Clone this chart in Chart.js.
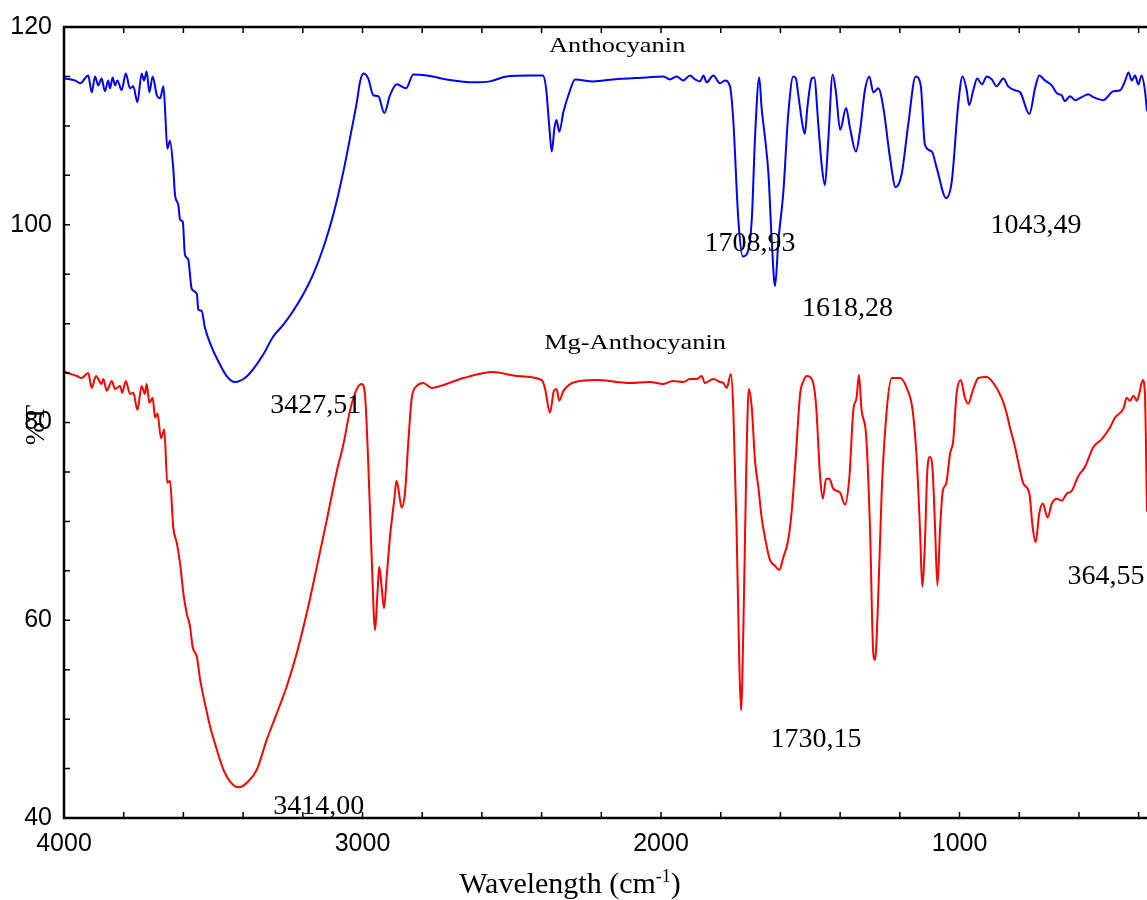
<!DOCTYPE html>
<html>
<head>
<meta charset="utf-8">
<title>FTIR Anthocyanin / Mg-Anthocyanin</title>
<script src="https://cdn.jsdelivr.net/npm/chart.js@4.4.1/dist/chart.umd.min.js"></script>
<style>
  html, body { margin: 0; padding: 0; background: #fff; }
  #wrap { width: 1147px; height: 900px; }
</style>
</head>
<body>
<div id="wrap"><canvas id="irChart"></canvas></div>
<script>
// Anthocyanin spectrum (wavenumber, %T)
const antWn = [3997, 3963, 3946, 3919, 3907, 3896, 3885, 3874, 3863, 3852, 3846, 3837, 3829, 3821, 3807, 3793, 3779, 3768, 3754, 3740,
  3732, 3723, 3714, 3703, 3689, 3678, 3667, 3661, 3654, 3645, 3634, 3628, 3617, 3611, 3602, 3595, 3584, 3572, 3555, 3550,
  3539, 3528, 3505, 3483, 3455, 3427, 3394, 3366, 3332, 3299, 3265, 3232, 3198, 3165, 3131, 3098, 3064, 3036, 3019, 3008,
  2997, 2981, 2964, 2947, 2927, 2908, 2885, 2854, 2830, 2785, 2718, 2629, 2573, 2517, 2439, 2396, 2385, 2374, 2366, 2357,
  2350, 2341, 2327, 2307, 2288, 2227, 2160, 2048, 1992, 1970, 1948, 1925, 1903, 1886, 1869, 1858, 1847, 1825, 1802, 1786,
  1769, 1758, 1741, 1726, 1713, 1696, 1685, 1671, 1663, 1652, 1640, 1629, 1618, 1607, 1590, 1574, 1557, 1548, 1540, 1525,
  1518, 1510, 1495, 1487, 1473, 1462, 1451, 1440, 1425, 1414, 1400, 1380, 1367, 1347, 1333, 1317, 1302, 1289, 1272, 1255,
  1233, 1214, 1194, 1172, 1147, 1130, 1116, 1093, 1076, 1045, 1026, 1004, 990, 976, 968, 954, 941, 925, 909, 892,
  876, 853, 837, 814, 797, 766, 747, 733, 714, 691, 674, 658, 647, 630, 613, 591, 569, 552, 518, 485,
  462, 446, 434, 423, 412, 401, 390, 379, 372];
const antT = [114.8, 114.6, 114.3, 115.1, 113.4, 115.0, 114.1, 114.8, 113.5, 114.6, 113.8, 114.9, 114.1, 114.6, 113.6, 115.3, 113.8, 114.0, 112.4, 115.3,
  114.6, 115.5, 113.4, 115.0, 113.1, 112.8, 114.0, 111.4, 107.7, 108.5, 105.7, 103.0, 102.0, 100.5, 100.3, 97.0, 96.5, 93.5, 93.0, 91.4,
  91.3, 89.6, 87.6, 86.2, 84.7, 84.1, 84.5, 85.4, 86.9, 88.7, 89.9, 91.3, 93.0, 95.0, 97.7, 101.0, 105.4, 109.7, 112.4, 114.5,
  115.3, 114.8, 113.1, 113.0, 111.3, 113.1, 114.2, 113.8, 115.2, 115.1, 114.7, 114.4, 114.5, 115.0, 115.1, 115.1, 113.8, 109.8, 107.4, 109.8,
  110.6, 109.4, 111.4, 113.4, 114.7, 114.5, 114.7, 114.9, 115.0, 114.7, 115.0, 114.6, 115.1, 114.7, 114.5, 115.1, 114.4, 115.1, 114.3, 114.6,
  114.0, 110.6, 100.5, 96.8, 97.0, 100.5, 108.9, 114.9, 111.8, 108.9, 105.1, 98.3, 93.8, 98.3, 103.4, 111.1, 115.0, 114.8, 113.1, 109.9,
  109.2, 111.8, 114.8, 114.9, 110.1, 106.1, 104.0, 108.4, 115.2, 113.4, 109.6, 111.8, 109.8, 107.4, 109.6, 113.6, 115.0, 113.4, 113.8, 111.8,
  106.8, 103.8, 105.1, 110.1, 115.0, 114.1, 108.1, 107.4, 105.7, 102.7, 104.4, 112.3, 115.0, 113.6, 112.1, 113.6, 114.8, 114.2, 115.0, 114.7,
  114.0, 114.8, 114.0, 113.6, 113.4, 111.2, 113.8, 115.1, 114.6, 114.1, 113.3, 113.1, 112.5, 113.0, 112.6, 112.9, 113.2, 112.9, 112.6, 113.5,
  113.6, 114.5, 115.4, 114.6, 115.1, 114.2, 115.1, 113.6, 111.5];

// Mg-Anthocyanin spectrum (wavenumber, %T)
const mgWn = [3997, 3957, 3941, 3919, 3907, 3893, 3874, 3868, 3857, 3840, 3829, 3812, 3805, 3793, 3779, 3768, 3754, 3740, 3729, 3723,
  3714, 3703, 3695, 3687, 3675, 3664, 3654, 3645, 3634, 3622, 3611, 3600, 3589, 3578, 3569, 3555, 3544, 3528, 3511, 3488,
  3466, 3444, 3416, 3383, 3354, 3321, 3287, 3254, 3220, 3187, 3153, 3120, 3086, 3064, 3042, 3019, 3003, 2992, 2981, 2969,
  2958, 2950, 2944, 2936, 2928, 2919, 2908, 2894, 2886, 2874, 2869, 2858, 2847, 2835, 2818, 2796, 2768, 2729, 2662, 2562,
  2483, 2400, 2389, 2372, 2359, 2350, 2341, 2327, 2288, 2216, 2104, 2037, 1992, 1959, 1925, 1903, 1880, 1864, 1853, 1825,
  1802, 1791, 1780, 1766, 1758, 1747, 1738, 1732, 1724, 1715, 1706, 1696, 1685, 1674, 1663, 1652, 1635, 1618, 1604, 1590,
  1574, 1562, 1548, 1534, 1523, 1512, 1495, 1481, 1467, 1458, 1447, 1436, 1423, 1400, 1384, 1369, 1356, 1345, 1337, 1328,
  1313, 1300, 1289, 1283, 1272, 1261, 1244, 1227, 1199, 1177, 1157, 1143, 1132, 1125, 1116, 1108, 1099, 1090, 1082, 1074,
  1065, 1056, 1045, 1032, 1021, 1010, 996, 982, 971, 956, 937, 909, 887, 859, 842, 831, 814, 797, 786, 766,
  755, 745, 733, 721, 705, 691, 674, 658, 641, 624, 602, 580, 552, 524, 496, 479, 451, 440, 429, 417,
  406, 398, 386, 379, 372];
const mgT = [85.1, 84.7, 84.5, 85.0, 83.5, 84.7, 83.9, 84.4, 83.2, 84.2, 83.4, 83.7, 83.0, 84.2, 82.9, 83.0, 81.3, 83.7, 82.9, 83.9,
  82.0, 82.5, 80.5, 80.9, 78.4, 79.3, 73.9, 74.1, 69.4, 67.8, 65.7, 62.7, 60.7, 59.4, 57.3, 56.3, 54.0, 51.6, 49.3, 46.9,
  44.9, 43.7, 43.1, 43.7, 44.9, 47.9, 50.6, 53.3, 56.7, 60.7, 65.4, 70.1, 75.1, 77.8, 81.2, 83.4, 83.9, 82.9, 76.1, 66.1,
  59.0, 62.7, 65.4, 63.4, 61.2, 64.4, 68.4, 72.1, 74.1, 72.1, 71.4, 72.8, 77.8, 82.5, 83.7, 84.0, 83.5, 83.8, 84.5, 85.1,
  84.7, 84.3, 83.5, 81.0, 83.2, 83.4, 82.2, 83.2, 84.1, 84.3, 84.0, 84.1, 83.9, 84.2, 84.1, 84.4, 84.4, 84.7, 84.0, 84.4,
  84.1, 84.0, 83.5, 84.9, 81.5, 69.4, 56.0, 50.9, 59.4, 74.5, 83.4, 81.5, 76.1, 73.5, 70.4, 68.4, 66.1, 65.5, 65.1, 66.4,
  68.1, 71.1, 76.8, 82.9, 84.2, 84.7, 84.4, 81.9, 74.5, 72.3, 74.3, 74.3, 73.3, 72.9, 71.7, 74.5, 81.2, 82.5, 84.8, 81.2,
  78.7, 69.4, 56.7, 56.0, 62.7, 72.8, 81.2, 84.5, 84.5, 83.5, 81.2, 76.1, 68.8, 63.4, 67.8, 75.1, 76.5, 75.1, 69.4, 63.5,
  69.4, 73.1, 73.8, 76.8, 78.2, 82.9, 84.3, 82.5, 81.9, 83.2, 84.5, 84.6, 84.0, 82.5, 80.9, 79.5, 77.5, 75.1, 73.8, 72.8,
  69.4, 67.9, 70.8, 71.8, 70.4, 71.8, 72.3, 72.1, 72.8, 73.1, 74.6, 75.5, 77.5, 78.3, 79.5, 80.5, 81.4, 82.5, 82.2, 82.7,
  82.2, 82.9, 84.3, 82.9, 71.0];

// axis ticks
const xTicks = [4000, 3000, 2000, 1000];
const yTicks = [40, 60, 80, 100, 120];
const xMinor = [];
for (let v = 400; v <= 4000; v += 200) xMinor.push(v);
const yMinor = [];
for (let v = 40; v <= 120; v += 5) yMinor.push(v);

// peak labels and curve names (placed in data units)
const noteText = ['Anthocyanin', 'Mg-Anthocyanin', '3427,51', '3414,00', '1708,93', '1618,28', '1043,49', '1730,15', '364,55'];
const noteWn = [2147, 2087, 3157, 3147, 1702, 1375, 744, 1481, 509];
const noteT = [118.1, 88.0, 81.7, 41.1, 98.1, 91.5, 99.9, 47.9, 64.4];
const noteSize = [22, 22, 28, 28, 28, 28, 28, 28, 28];
const noteStretch = [1.2, 1.2, 1, 1, 1, 1, 1, 1, 1];

const toPoints = (wn, t) => wn.map((w, i) => ({ x: w, y: t[i] }));

const framePlugin = {
    id: 'frame',
    afterDraw(chart) {
        const { ctx, chartArea: a, scales: { x, y } } = chart;
        ctx.save();
        ctx.strokeStyle = '#000';
        ctx.lineWidth = 2.5;
        ctx.beginPath();
        ctx.moveTo(a.right + 5, a.top);
        ctx.lineTo(a.left, a.top);
        ctx.lineTo(a.left, a.bottom);
        ctx.lineTo(a.right + 5, a.bottom);
        ctx.stroke();

        // inward tick marks
        ctx.lineWidth = 1.5;
        ctx.beginPath();
        xMinor.forEach(v => {
            const px = x.getPixelForValue(v);
            ctx.moveTo(px, a.bottom); ctx.lineTo(px, a.bottom - 6);
            ctx.moveTo(px, a.top); ctx.lineTo(px, a.top + 6);
        });
        yMinor.forEach(v => {
            const py = y.getPixelForValue(v);
            ctx.moveTo(a.left, py); ctx.lineTo(a.left + 6, py);
        });
        ctx.stroke();

        // notes
        ctx.fillStyle = '#000';
        ctx.textAlign = 'center';
        ctx.textBaseline = 'middle';
        noteText.forEach((txt, i) => {
            ctx.save();
            ctx.translate(x.getPixelForValue(noteWn[i]), y.getPixelForValue(noteT[i]));
            ctx.scale(noteStretch[i], 1);
            ctx.font = noteSize[i] + 'px "Liberation Serif", "Times New Roman", serif';
            ctx.fillText(txt, 0, 0);
            ctx.restore();
        });

        // y title, rotated
        ctx.save();
        ctx.translate(37, 425);
        ctx.rotate(-Math.PI / 2);
        ctx.font = '28px "Liberation Serif", serif';
        ctx.fillText('%T', 0, 0);
        ctx.restore();

        // x title with superscript
        ctx.textAlign = 'left';
        ctx.textBaseline = 'alphabetic';
        const big = '30px "Liberation Serif", serif';
        const small = '18px "Liberation Serif", serif';
        ctx.font = big;
        const w1 = ctx.measureText('Wavelength (cm').width;
        const w3 = ctx.measureText(')').width;
        ctx.font = small;
        const w2 = ctx.measureText('-1').width;
        let tx = 570 - (w1 + w2 + w3) / 2;
        const ty = 893;
        ctx.font = big;
        ctx.fillText('Wavelength (cm', tx, ty);
        tx += w1;
        ctx.font = small;
        ctx.fillText('-1', tx, ty - 11);
        tx += w2;
        ctx.font = big;
        ctx.fillText(')', tx, ty);
        ctx.restore();
    }
};

document.addEventListener("DOMContentLoaded", function () {
    const ctx = document.getElementById("irChart").getContext("2d");
    new Chart(ctx, {
        type: "line",
        data: {
            datasets: [{
                label: "Anthocyanin",
                data: toPoints(antWn, antT),
                borderColor: "#0000ff",
                borderWidth: 2,
                pointRadius: 0,
                cubicInterpolationMode: "monotone",
                fill: false
            }, {
                label: "Mg-Anthocyanin",
                data: toPoints(mgWn, mgT),
                borderColor: "#ff0000",
                borderWidth: 2,
                pointRadius: 0,
                cubicInterpolationMode: "monotone",
                fill: false
            }]
        },
        options: {
            responsive: true,
            maintainAspectRatio: false,
            animation: false,
            devicePixelRatio: 1,
            layout: { padding: { top: 25, right: 0, left: 0, bottom: 0 } },
            plugins: {
                legend: { display: false },
                tooltip: { enabled: false }
            },
            scales: {
                x: {
                    type: "linear",
                    reverse: true,
                    min: 372,
                    max: 4000,
                    grid: { display: false, drawTicks: false },
                    border: { display: false },
                    afterBuildTicks: s => { s.ticks = xMinor.map(v => ({ value: v })); },
                    afterFit: s => { s.height = 82; },
                    ticks: {
                        autoSkip: false,
                        maxRotation: 0,
                        padding: 11,
                        color: "#000",
                        font: { family: '"Liberation Sans", Arial, sans-serif', size: 25 },
                        callback: v => xTicks.includes(v) ? String(v) : ''
                    }
                },
                y: {
                    min: 40,
                    max: 120,
                    grid: { display: false, drawTicks: false },
                    border: { display: false },
                    afterBuildTicks: s => { s.ticks = yMinor.map(v => ({ value: v })); },
                    afterFit: s => { s.width = 64; },
                    ticks: {
                        autoSkip: false,
                        padding: 12,
                        color: "#000",
                        font: { family: '"Liberation Sans", Arial, sans-serif', size: 25 },
                        callback: v => yTicks.includes(v) ? String(v) : ''
                    }
                }
            }
        },
        plugins: [framePlugin]
    });
});
</script>
</body>
</html>
